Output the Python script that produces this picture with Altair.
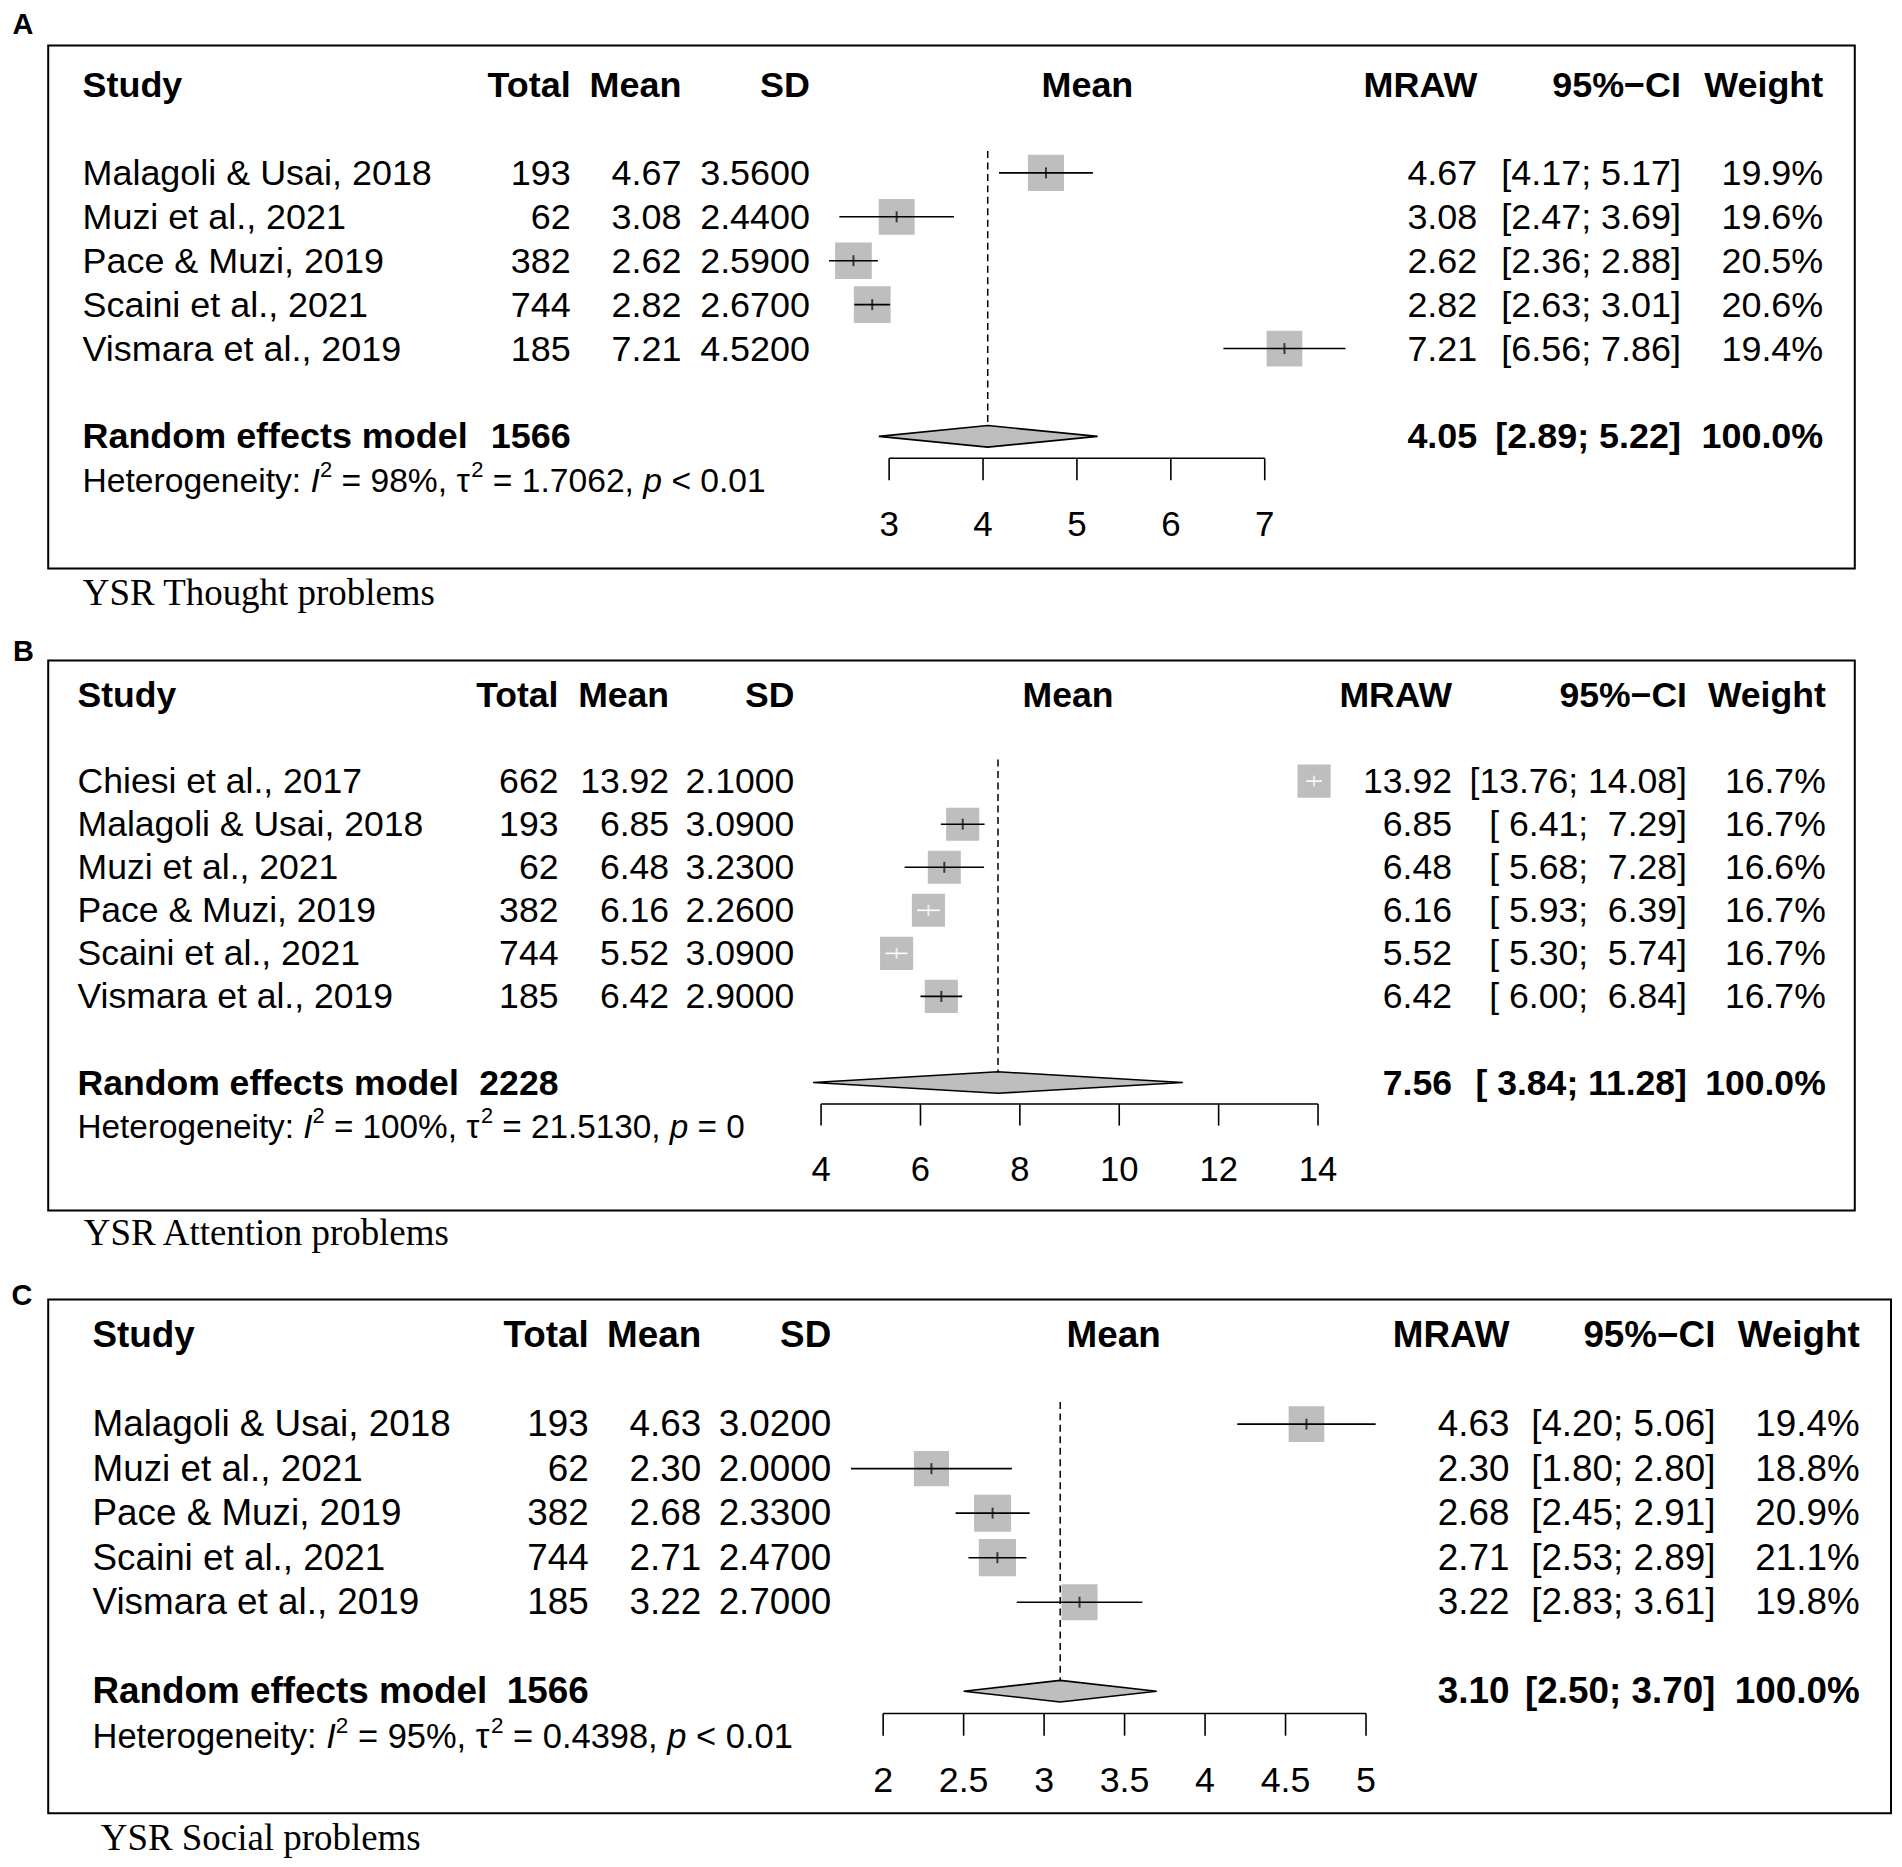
import math
import altair as alt
import pandas as pd

SANS = "Liberation Sans"
SERIF = "Liberation Serif"

# ---------------- data ----------------
# Panel A: YSR Thought problems
A_study = ["Malagoli & Usai, 2018", "Muzi et al., 2021", "Pace & Muzi, 2019",
           "Scaini et al., 2021", "Vismara et al., 2019"]
A_total = [193, 62, 382, 744, 185]
A_mean = [4.67, 3.08, 2.62, 2.82, 7.21]
A_sd = [3.56, 2.44, 2.59, 2.67, 4.52]
A_lower = [4.17, 2.47, 2.36, 2.63, 6.56]
A_upper = [5.17, 3.69, 2.88, 3.01, 7.86]
A_weight = [19.9, 19.6, 20.5, 20.6, 19.4]
A_re = [1566, 4.05, 2.89, 5.22, 100.0]   # total, mean, lower, upper, weight
A_het = ["98%", "1.7062", "< 0.01"]
A_ticks = [3, 4, 5, 6, 7]
A_caption = "YSR Thought problems"

# Panel B: YSR Attention problems
B_study = ["Chiesi et al., 2017", "Malagoli & Usai, 2018", "Muzi et al., 2021",
           "Pace & Muzi, 2019", "Scaini et al., 2021", "Vismara et al., 2019"]
B_total = [662, 193, 62, 382, 744, 185]
B_mean = [13.92, 6.85, 6.48, 6.16, 5.52, 6.42]
B_sd = [2.10, 3.09, 3.23, 2.26, 3.09, 2.90]
B_lower = [13.76, 6.41, 5.68, 5.93, 5.30, 6.00]
B_upper = [14.08, 7.29, 7.28, 6.39, 5.74, 6.84]
B_weight = [16.7, 16.7, 16.6, 16.7, 16.7, 16.7]
B_re = [2228, 7.56, 3.84, 11.28, 100.0]
B_het = ["100%", "21.5130", "= 0"]
B_ticks = [4, 6, 8, 10, 12, 14]
B_caption = "YSR Attention problems"

# Panel C: YSR Social problems
C_study = ["Malagoli & Usai, 2018", "Muzi et al., 2021", "Pace & Muzi, 2019",
           "Scaini et al., 2021", "Vismara et al., 2019"]
C_total = [193, 62, 382, 744, 185]
C_mean = [4.63, 2.30, 2.68, 2.71, 3.22]
C_sd = [3.02, 2.00, 2.33, 2.47, 2.70]
C_lower = [4.20, 1.80, 2.45, 2.53, 2.83]
C_upper = [5.06, 2.80, 2.91, 2.89, 3.61]
C_weight = [19.4, 18.8, 20.9, 21.1, 19.8]
C_re = [1566, 3.10, 2.50, 3.70, 100.0]
C_het = ["95%", "0.4398", "< 0.01"]
C_ticks = [2, 2.5, 3, 3.5, 4, 4.5, 5]
C_caption = "YSR Social problems"

# ---------------- layout (page pixels) ----------------
LAY_A = dict(letter="A", top=8, H=618, c0=170.3, step=44.0, v0=3, px0=890.0, k=94.1, fscale=1.0,
             box=(47.3, 42.7, 1857.7, 566.7), letter_xy=(11.5, 31), cap_xy=(82, 603),
             cols=dict(study=81.7, total=570.9, mean=681.8, sd=810.7, hdr=1088.7,
                       mraw=1479.4, ci=1683.5, weight=1826.1))
LAY_B = dict(letter="B", top=626, H=644, c0=779.8, step=43.15, v0=4, px0=821.8, k=49.8, fscale=0.99,
             box=(47.3, 659.0, 1857.7, 1210.0), letter_xy=(12, 659), cap_xy=(83, 1245),
             cols=dict(study=76.7, total=558.6, mean=669.5, sd=795.0, hdr=1069.2,
                       mraw=1454.0, ci=1689.5, weight=1828.6))
LAY_C = dict(letter="C", top=1270, H=589, c0=1424.2, step=44.6, v0=2, px0=884.0, k=161.3, fscale=1.025,
             box=(47.3, 1299.3, 1894.0, 1814.2), letter_xy=(10.5, 1305), cap_xy=(100, 1850.5),
             cols=dict(study=91.7, total=589.0, mean=701.6, sd=832.0, hdr=1115.0,
                       mraw=1511.6, ci=1718.0, weight=1862.6))
W = 1888
SQ = 37.3      # side of the largest square (px)
DH = 10.8      # half-height of the summary diamond (px)
FS = 36        # table font size
TS = 35        # tick label font size
HS = 33.7      # heterogeneity font size
SUP = 22       # superscript font size
TDY = 12       # text baseline below row centre

AW = {' ': 278, '%': 889, '&': 667, ',': 278, '.': 278, ':': 278, ';': 278, '<': 584,
      '=': 584, '[': 278, ']': 278, '\u03c4': 440, '\u00a0': 278}
for ch in "0123456789":
    AW[ch] = 556
for ch, w in zip("abcdefghijklmnopqrstuvwxyz",
                 [556, 556, 500, 556, 556, 278, 556, 556, 222, 222, 500, 222, 833, 556, 556,
                  556, 556, 333, 500, 278, 556, 500, 722, 500, 500, 500]):
    AW[ch] = w
for ch, w in zip("ABCDEFGHIJKLMNOPQRSTUVWXYZ",
                 [667, 667, 722, 722, 667, 611, 778, 722, 278, 500, 667, 556, 833, 722, 778,
                  667, 778, 722, 667, 611, 722, 667, 944, 667, 667, 611]):
    AW[ch] = w


def tw(s, size):
    return sum(AW.get(c, 556) for c in s) * size / 1000.0


def fmt_ci(lowers, uppers):
    ls = [f"{v:.2f}" for v in lowers]
    us = [f"{v:.2f}" for v in uppers]
    wl = max(map(len, ls))
    wu = max(map(len, us))
    return ["[" + l.rjust(wl, "\u00a0") + ";\u00a0" + u.rjust(wu, "\u00a0") + "]"
            for l, u in zip(ls, us)]


def panel(D, L):
    H, top, c0, step = L["H"], L["top"], L["c0"], L["step"]
    fs = FS * L["fscale"]
    hs = HS * L["fscale"]
    sup = SUP * L["fscale"]
    lx = lambda px: px - 8
    ly = lambda py: py - top
    ra = (top - c0) / step
    rb = ra + H / step
    ys = alt.Scale(domain=[ra, rb], reverse=True, nice=False, zero=False)
    va = L["v0"] - (L["px0"] - 8) / L["k"]
    vb = va + W / L["k"]
    xs = alt.Scale(domain=[va, vb], nice=False, zero=False)
    X = lambda f: alt.X(f, scale=xs, axis=None)
    Y = lambda f: alt.Y(f, scale=ys, axis=None)

    n = len(D["study"])
    rows = list(range(n))
    re_row = n + 1
    re_total, re_mean, re_lo, re_hi, re_w = D["re"]
    wmax = max(D["weight"])
    side = [SQ * math.sqrt(w / wmax) for w in D["weight"]]
    cicol = ["white" if (u - l) * L["k"] < 0.9 * s else "black"
             for l, u, s in zip(D["lower"], D["upper"], side)]
    sdf = pd.DataFrame(dict(row=rows, mean=D["mean"], lower=D["lower"], upper=D["upper"],
                            weight=D["weight"], cicol=cicol))
    one = pd.DataFrame({"a": [0]})
    dh = DH / step
    layers = []

    # frame
    b = L["box"]
    layers.append(alt.Chart(one).mark_rect(fillOpacity=0, stroke="black", strokeWidth=2).encode(
        x=alt.value(lx(b[0])), x2=alt.value(lx(b[2])),
        y=alt.value(ly(b[1])), y2=alt.value(ly(b[3]))))

    # reference line at the pooled estimate
    ref = pd.DataFrame({"m": [re_mean], "r0": [-0.5], "r1": [re_row - dh]})
    layers.append(alt.Chart(ref).mark_rule(color="black", strokeWidth=1.5, strokeDash=[7, 4.5]).encode(
        x=X("m:Q"), y=Y("r0:Q"), y2="r1:Q"))

    # squares
    layers.append(alt.Chart(sdf).mark_point(shape="square", filled=True, color="#bebebe",
                                            opacity=1, strokeWidth=0).encode(
        x=X("mean:Q"), y=Y("row:Q"),
        size=alt.Size("weight:Q", scale=alt.Scale(domain=[0, wmax], range=[0, SQ * SQ]), legend=None)))
    # CI lines
    layers.append(alt.Chart(sdf).mark_rule(strokeWidth=1.6).encode(
        x=X("lower:Q"), x2="upper:Q", y=Y("row:Q"), color=alt.Color("cicol:N", scale=None)))
    # centre ticks
    layers.append(alt.Chart(sdf).mark_tick(orient="vertical", size=11, thickness=2).encode(
        x=X("mean:Q"), y=Y("row:Q"), color=alt.Color("cicol:N", scale=None)))

    # diamond
    dia = pd.DataFrame({"x": [re_lo, re_mean, re_hi],
                        "yt": [re_row, re_row - dh, re_row],
                        "yb": [re_row, re_row + dh, re_row]})
    layers.append(alt.Chart(dia).mark_area(fill="#bebebe", fillOpacity=1, stroke="black",
                                           strokeWidth=1.6).encode(
        x=X("x:Q"), y=Y("yt:Q"), y2="yb:Q"))

    # axis
    t = D["ticks"]
    ax = pd.DataFrame({"t0": [min(t)], "t1": [max(t)], "r": [n + 1.5]})
    layers.append(alt.Chart(ax).mark_rule(color="black", strokeWidth=1.6).encode(
        x=X("t0:Q"), x2="t1:Q", y=Y("r:Q")))
    tk = pd.DataFrame({"t": t, "r0": [n + 1.5] * len(t), "r1": [n + 2.0] * len(t),
                       "rl": [n + 3] * len(t), "lab": [f"{v:g}" for v in t]})
    layers.append(alt.Chart(tk).mark_rule(color="black", strokeWidth=1.6).encode(
        x=X("t:Q"), y=Y("r0:Q"), y2="r1:Q"))
    layers.append(alt.Chart(tk).mark_text(fontSize=TS * L["fscale"], font=SANS, baseline="alphabetic",
                                          dy=TDY, align="center", color="black").encode(
        x=X("t:Q"), y=Y("rl:Q"), text="lab:N"))

    # table text
    C = {k: lx(v) for k, v in L["cols"].items()}
    f2 = lambda v: f"{v:.2f}"
    ci_txt = fmt_ci(D["lower"] + [re_lo], D["upper"] + [re_hi])

    def text_layer(items, align, size, weight="normal", style="normal", dy=TDY):
        df = pd.DataFrame(items, columns=["xp", "row", "txt"])
        return alt.Chart(df).mark_text(align=align, baseline="alphabetic", fontSize=size,
                                       fontWeight=weight, fontStyle=style, font=SANS, dy=dy,
                                       color="black").encode(
            x=alt.X("xp:Q", scale=None, axis=None), y=Y("row:Q"), text="txt:N")

    left = [(C["study"], r, s) for r, s in zip(rows, D["study"])]
    right = []
    for r in rows:
        right += [(C["total"], r, str(D["total"][r])),
                  (C["mean"], r, f2(D["mean"][r])),
                  (C["sd"], r, f"{D['sd'][r]:.4f}"),
                  (C["mraw"], r, f2(D["mean"][r])),
                  (C["ci"], r, ci_txt[r]),
                  (C["weight"], r, f"{D['weight'][r]:.1f}%")]
    bleft = [(C["study"], -2, "Study"), (C["study"], re_row, "Random effects model")]
    bright = [(C["total"], -2, "Total"), (C["mean"], -2, "Mean"), (C["sd"], -2, "SD"),
              (C["mraw"], -2, "MRAW"), (C["ci"], -2, "95%\u2212CI"), (C["weight"], -2, "Weight"),
              (C["total"], re_row, str(re_total)), (C["mraw"], re_row, f2(re_mean)),
              (C["ci"], re_row, ci_txt[-1]), (C["weight"], re_row, f"{re_w:.1f}%")]
    bcenter = [(C["hdr"], -2, "Mean")]
    layers.append(text_layer(left, "left", fs))
    layers.append(text_layer(right, "right", fs))
    layers.append(text_layer(bleft, "left", fs, weight="bold"))
    layers.append(text_layer(bright, "right", fs, weight="bold"))
    layers.append(text_layer(bcenter, "center", fs, weight="bold"))

    # heterogeneity line
    het = D["het"]
    pieces = [("Heterogeneity: ", "n"), ("I", "i"), ("2", "s"), (f" = {het[0]}, ", "n"),
              ("\u03c4", "n"), ("2", "s"), (f" = {het[1]}, ", "n"), ("p", "i"), (f" {het[2]}", "n")]
    hx = C["study"]
    hn, hi, hsup = [], [], []
    hr = n + 2
    for txt, st in pieces:
        size = sup if st == "s" else hs
        lead = len(txt) - len(txt.lstrip(" "))
        item = (hx + tw(" " * lead, size), hr, txt.strip(" "))
        {"n": hn, "i": hi, "s": hsup}[st].append(item)
        hx += tw(txt, size)
    layers.append(text_layer(hn, "left", hs))
    layers.append(text_layer(hi, "left", hs, style="italic"))
    layers.append(text_layer(hsup, "left", sup, dy=TDY - 15))

    # panel letter and caption
    layers.append(alt.Chart(one).mark_text(text=L["letter"], align="left", baseline="alphabetic",
                                           fontSize=29, fontWeight="bold", font=SANS,
                                           color="black").encode(
        x=alt.value(lx(L["letter_xy"][0])), y=alt.value(ly(L["letter_xy"][1]))))
    layers.append(alt.Chart(one).mark_text(text=D["caption"], align="left", baseline="alphabetic",
                                           fontSize=37, font=SERIF, color="black").encode(
        x=alt.value(lx(L["cap_xy"][0])), y=alt.value(ly(L["cap_xy"][1]))))

    return alt.layer(*layers).properties(width=W, height=H)


DA = dict(study=A_study, total=A_total, mean=A_mean, sd=A_sd, lower=A_lower, upper=A_upper,
          weight=A_weight, re=A_re, het=A_het, ticks=A_ticks, caption=A_caption)
DB = dict(study=B_study, total=B_total, mean=B_mean, sd=B_sd, lower=B_lower, upper=B_upper,
          weight=B_weight, re=B_re, het=B_het, ticks=B_ticks, caption=B_caption)
DC = dict(study=C_study, total=C_total, mean=C_mean, sd=C_sd, lower=C_lower, upper=C_upper,
          weight=C_weight, re=C_re, het=C_het, ticks=C_ticks, caption=C_caption)

chart = alt.vconcat(panel(DA, LAY_A), panel(DB, LAY_B), panel(DC, LAY_C),
                    spacing=0, bounds="flush").properties(
    padding=0, background="white").configure_view(stroke="transparent")

chart.save("out.html", embed_options={"renderer": "svg", "actions": False})
